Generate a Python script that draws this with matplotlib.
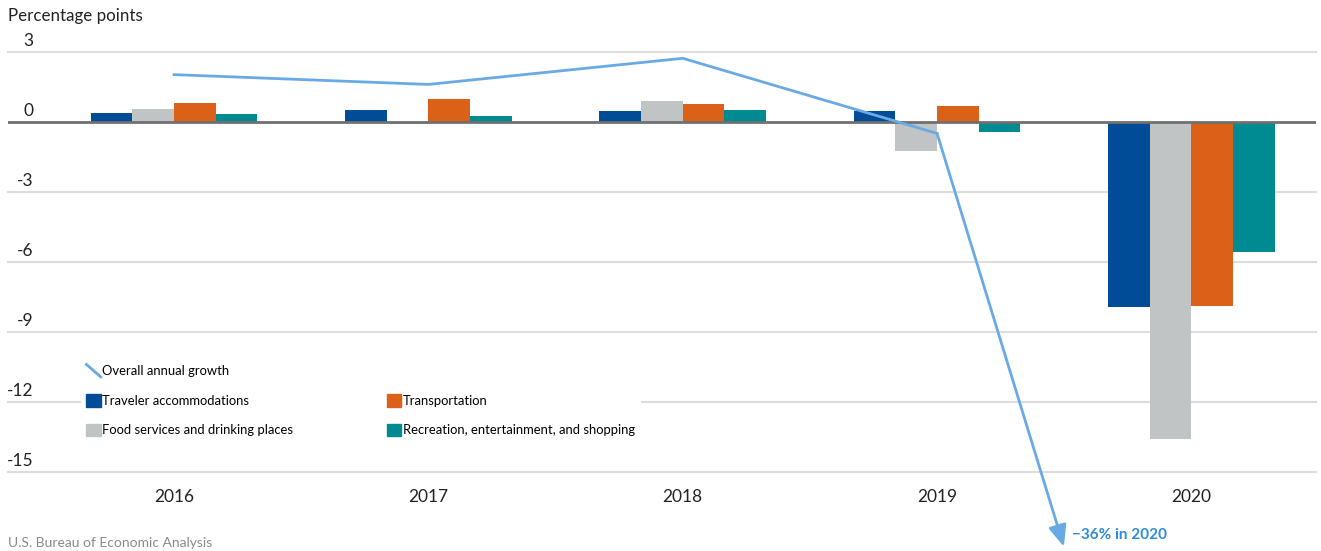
import numpy as np
import matplotlib
matplotlib.use('Agg')
import matplotlib.pyplot as plt
from matplotlib.lines import Line2D
from matplotlib.patches import Patch
from matplotlib.legend_handler import HandlerLine2D

# data (percentage points)
years = ['2016', '2017', '2018', '2019', '2020']
accommodations = [0.37, 0.50, 0.46, 0.47, -7.94]
food = [0.56, -0.10, 0.89, -1.24, -13.59]
transportation = [0.83, 1.00, 0.77, 0.69, -7.89]
recreation = [0.34, 0.24, 0.50, -0.44, -5.57]
overall = [2.03, 1.61, 2.73, -0.49, -36.0]
y_ticks = [3, 0, -3, -6, -9, -12, -15]

c_blue = '#004C97'
c_gray = '#C1C4C5'
c_orange = '#DB6119'
c_teal = '#008B92'
c_line = '#6AAAE4'

plt.rcParams['font.family'] = ['Lato', 'DejaVu Sans']

fig = plt.figure(figsize=(13.21, 5.51), dpi=100)
ax = fig.add_axes([8 / 1321, 1 - 472 / 551, 1308 / 1321, 420 / 551])
ax.set_xlim(-0.653, 4.49)
ax.set_ylim(-15, 3)
for s in ax.spines.values():
    s.set_visible(False)
ax.set_xticks([])
ax.set_yticks([])

# gridlines with their labels sitting just above them
for t in y_ticks:
    if t != 0:
        ax.axhline(t, color='#dcdcdc', lw=1.5, zorder=0, clip_on=False)
    ax.text(25 / 1308, t + 0.15, str(t), transform=ax.get_yaxis_transform(),
            ha='right', va='bottom', fontsize=12.5, color='#222222')

x = np.arange(len(years))
w = 0.164
series = [(accommodations, c_blue), (food, c_gray), (transportation, c_orange), (recreation, c_teal)]
for i, (vals, col) in enumerate(series):
    ax.bar(x + (i - 1.5) * w, vals, width=w, color=col, zorder=2)

ax.axhline(0, color='#707070', lw=2, zorder=3)

# overall growth line, last segment runs off the chart as an arrow
ax.plot(x[:4], overall[:4], color=c_line, lw=2, zorder=4)
y_end = -18.2
frac = (y_end - overall[3]) / (overall[4] - overall[3])
x_end = x[3] + frac * (x[4] - x[3])
ax.annotate('', xy=(x_end, y_end), xytext=(x[3], overall[3]),
            arrowprops=dict(arrowstyle='-|>,head_length=1.3,head_width=0.55', color=c_line,
                            lw=2, shrinkA=0, shrinkB=0),
            annotation_clip=False, zorder=4)
ax.text(x_end + 0.033, y_end + 0.5, '\u221236% in 2020', color='#2F8BD8',
        fontsize=11, fontweight='bold', ha='left', va='center')

# year labels
for xi, yr in zip(x, years):
    ax.text(xi, -16.05, yr, ha='center', va='center', fontsize=12.5, color='#222222')

fig.text(8 / 1321, 1 - 16 / 551, 'Percentage points', fontsize=12.2, color='#222222',
         ha='left', va='center')
fig.text(8 / 1321, 1 - 543 / 551, 'U.S. Bureau of Economic Analysis', fontsize=10,
         color='#8a8a8a', ha='left', va='center')


class DiagonalHandler(HandlerLine2D):
    def create_artists(self, legend, orig_handle, xdescent, ydescent, width, height,
                       fontsize, trans):
        ln = Line2D([-xdescent, -xdescent + width], [-ydescent + height, -ydescent],
                    color=orig_handle.get_color(), lw=orig_handle.get_linewidth())
        ln.set_transform(trans)
        return [ln]


line_h = Line2D([], [], color=c_line, lw=2)
blank = Patch(visible=False)
handles = [line_h, Patch(color=c_blue), Patch(color=c_gray),
           blank, Patch(color=c_orange), Patch(color=c_teal)]
labels = ['Overall annual growth', 'Traveler accommodations', 'Food services and drinking places',
          ' ', 'Transportation', 'Recreation, entertainment, and shopping']
leg = ax.legend(handles, labels, ncol=2, loc='upper left',
                bbox_to_anchor=(74 / 1321, 1 - 352 / 551), bbox_transform=fig.transFigure,
                frameon=True, facecolor='white', edgecolor='none', framealpha=1, fancybox=False,
                fontsize=9.4, handlelength=1.1, handleheight=1.1, handletextpad=0.1,
                labelspacing=1.3, columnspacing=7.2, borderpad=0.45,
                handler_map={line_h: DiagonalHandler()})
leg.set_zorder(5)

fig.savefig('out.png', dpi=100)
